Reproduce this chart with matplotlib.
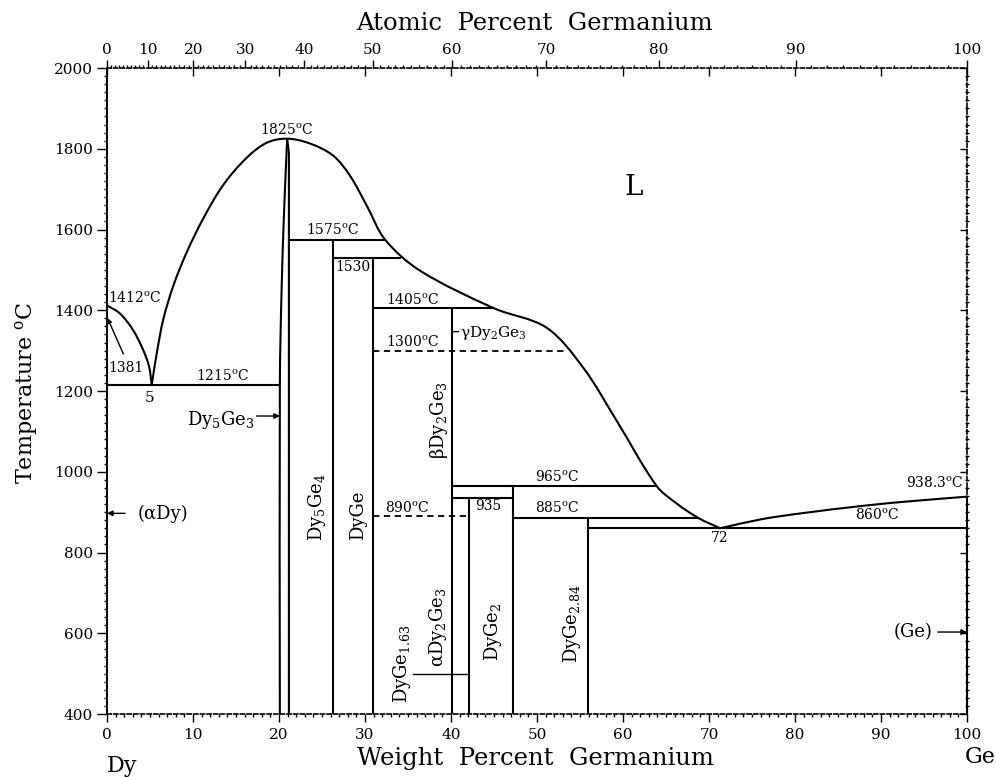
import numpy as np
import matplotlib
matplotlib.use("Agg")
import matplotlib.pyplot as plt
from matplotlib.ticker import MultipleLocator
from matplotlib.path import Path
from matplotlib.patches import PathPatch

plt.rcParams['font.family'] = ['DejaVu Serif']
plt.rcParams['mathtext.fontset'] = 'dejavuserif'

# ---------------- data ----------------
M_DY, M_GE = 162.50, 72.63

# liquidus curves (wt% Ge, deg C)
liq_dy_wt = [0.0, 1.5, 3.0, 4.2, 4.9, 5.2]
liq_dy_T = [1412, 1392, 1352, 1302, 1260, 1215]
liq_dome_wt = [5.2, 5.79, 6.55, 7.72, 9.28, 11.21, 13.54, 16.26, 18.59, 20.95,
               23.6, 26.3, 28.26, 30.23, 32.33, 36.4, 45.0, 51.1, 55.4, 59.3,
               63.9, 66.2, 68.8, 71.3]
liq_dome_T = [1215, 1294, 1378, 1461, 1544, 1628, 1711, 1778, 1815, 1825,
              1813, 1783, 1733, 1658, 1575, 1498, 1405, 1357, 1257, 1125,
              965, 922, 885, 860]
liq_ge_wt = [71.3, 76.0, 80.7, 88.5, 94.0, 100.0]
liq_ge_T = [860, 882, 897, 917, 928, 938.3]

# Dy5Ge3 homogeneity range boundaries
dy5ge3_left_wt = [20.95, 20.6, 20.3, 20.1, 20.1]
dy5ge3_left_T = [1825, 1650, 1450, 1215, 400]
dy5ge3_right_wt = [20.95, 21.15, 21.15]
dy5ge3_right_T = [1825, 1790, 400]

# line compounds
compound_names = ["Dy$_5$Ge$_4$", "DyGe", "Dy$_2$Ge$_3$", "DyGe$_{1.63}$",
                  "DyGe$_2$", "DyGe$_{2.84}$"]
compound_wt = [26.3, 30.9, 40.1, 42.1, 47.2, 55.9]
compound_top_T = [1575, 1530, 1405, 935, 965, 885]

# invariant (horizontal) lines
inv_T = [1215, 1575, 1530, 1405, 1300, 965, 935, 890, 885, 860]
inv_x0 = [0.0, 21.15, 26.3, 30.9, 30.9, 40.1, 40.1, 30.9, 47.2, 55.9]
inv_x1 = [20.1, 32.33, 34.2, 45.0, 53.5, 63.9, 47.2, 42.1, 68.8, 100.0]
inv_dashed = [False, False, False, False, True, False, False, True, False, False]

# point temperatures / compositions labelled on the chart
T_max_dy5ge3 = 1825
T_mp_dy, T_tr_dy, T_mp_ge = 1412, 1381, 938.3
eut1_wt, eut2_wt = 5, 72

wt_ticks = list(range(0, 101, 10))
at_ticks = list(range(0, 101, 10))
T_ticks = list(range(400, 2001, 200))


def at_to_wt(a):
    a = np.asarray(a, dtype=float)
    g = a * M_GE
    d = (100.0 - a) * M_DY
    with np.errstate(divide='ignore', invalid='ignore'):
        return np.where(g + d > 0, 100.0 * g / (g + d), 0.0)


def wt_to_at(w):
    w = np.asarray(w, dtype=float)
    g = w / M_GE
    d = (100.0 - w) / M_DY
    with np.errstate(divide='ignore', invalid='ignore'):
        return np.where(g + d > 0, 100.0 * g / (g + d), 0.0)


def smooth_path(xs, ys, sx=8.6, sy=0.404):
    """Bezier path through the given points (chord-length Hermite tangents)."""
    P = np.column_stack([np.asarray(xs, float) * sx, np.asarray(ys, float) * sy])
    n = len(P)
    d = np.linalg.norm(np.diff(P, axis=0), axis=1)
    M = np.zeros_like(P)
    M[0] = (P[1] - P[0]) / d[0]
    M[-1] = (P[-1] - P[-2]) / d[-1]
    for i in range(1, n - 1):
        M[i] = (P[i + 1] - P[i - 1]) / (d[i - 1] + d[i])
    verts = [P[0]]
    codes = [Path.MOVETO]
    for i in range(n - 1):
        c1 = P[i] + M[i] * d[i] / 3.0
        c2 = P[i + 1] - M[i + 1] * d[i] / 3.0
        verts += [c1, c2, P[i + 1]]
        codes += [Path.CURVE4] * 3
    V = np.array(verts)
    V[:, 0] /= sx
    V[:, 1] /= sy
    return Path(V, codes)


# ---------------- figure ----------------
fig = plt.figure(figsize=(9.96, 7.77), dpi=100)
ax = fig.add_axes([107 / 996, 1 - 714 / 777, 860 / 996, 646 / 777])
ax.set_xlim(0, 100)
ax.set_ylim(400, 2000)

LW = 1.5
kw = dict(color='black', lw=LW, solid_capstyle='butt')

for xs, ys in [(liq_dy_wt, liq_dy_T), (liq_dome_wt, liq_dome_T),
               (liq_ge_wt, liq_ge_T), (dy5ge3_left_wt, dy5ge3_left_T)]:
    ax.add_patch(PathPatch(smooth_path(xs, ys), fill=False, edgecolor='black', lw=LW))
ax.plot(dy5ge3_right_wt, dy5ge3_right_T, **kw)

for w, t in zip(compound_wt, compound_top_T):
    ax.plot([w, w], [400, t], **kw)

for t, x0, x1, dsh in zip(inv_T, inv_x0, inv_x1, inv_dashed):
    if dsh:
        ax.plot([x0, x1], [t, t], color='black', lw=1.3, ls=(0, (3.5, 2.5)))
    else:
        ax.plot([x0, x1], [t, t], **kw)

# Ge side solid boundary
ax.plot([100, 100], [400, T_mp_ge], color='black', lw=LW, clip_on=False)

# ---------------- axes styling ----------------
ax.xaxis.set_major_locator(plt.FixedLocator(wt_ticks))
ax.xaxis.set_minor_locator(MultipleLocator(1))
ax.yaxis.set_major_locator(plt.FixedLocator(T_ticks))
ax.yaxis.set_minor_locator(MultipleLocator(20))
ax.tick_params(axis='both', which='major', direction='out', length=7, width=1.0,
               labelsize=11, pad=3)
ax.tick_params(axis='both', which='minor', direction='out', length=2.5, width=1.0)
ax.tick_params(axis='x', which='major', length=6, pad=4)

ax.spines['left'].set_linewidth(1.4)
for s in ['bottom', 'top', 'right']:
    ax.spines[s].set_linewidth(1.2)
    ax.spines[s].set_linestyle((0, (2.5, 1.5)))

# top: atomic percent axis
sec = ax.secondary_xaxis('top', functions=(wt_to_at, at_to_wt))
sec.set_xticks(at_ticks)
sec.xaxis.set_minor_locator(MultipleLocator(1))
sec.tick_params(which='major', direction='out', length=6, width=1.0, labelsize=11, pad=2)
sec.tick_params(which='minor', direction='out', length=2, width=1.0)
sec.spines['top'].set_visible(False)

# top inward weight ticks
sec2 = ax.secondary_xaxis('top', functions=(lambda x: x, lambda x: x))
sec2.set_xticks(wt_ticks)
sec2.tick_params(which='major', direction='in', length=6, width=1.0, labeltop=False)
sec2.spines['top'].set_visible(False)

# right inward temperature ticks
sec3 = ax.secondary_yaxis('right', functions=(lambda x: x, lambda x: x))
sec3.set_yticks(T_ticks)
sec3.yaxis.set_minor_locator(MultipleLocator(20))
sec3.tick_params(which='major', direction='in', length=5, width=1.0, labelright=False)
sec3.tick_params(which='minor', direction='inout', length=3, width=1.0)
sec3.spines['right'].set_visible(False)

# ---------------- labels ----------------
deg = r"$^{\rm o}$C"
fs = 10


def lab(x, y, s, ha='center', va='center', size=fs, rot=0):
    ax.text(x, y, s, ha=ha, va=va, fontsize=size, rotation=rot)


lab(20.95, 1846, f"{T_max_dy5ge3}{deg}")
lab(26.2, 1599, f"{inv_T[1]}{deg}")
lab(26.5, 1507, f"{inv_T[2]}", ha='left')
lab(35.6, 1425, f"{inv_T[3]}{deg}")
lab(35.6, 1321, f"{inv_T[4]}{deg}")
lab(0.1, 1430, f"{T_mp_dy}{deg}", ha='left')
lab(0.1, 1257, f"{T_tr_dy}", ha='left')
lab(13.5, 1235, f"{inv_T[0]}{deg}")
lab(5.0, 1183, f"{eut1_wt}", size=11)
lab(34.9, 910, f"{inv_T[7]}{deg}")
lab(44.3, 915, f"{inv_T[6]}")
lab(52.4, 987, f"{inv_T[5]}{deg}")
lab(52.4, 910, f"{inv_T[8]}{deg}")
lab(71.3, 836, f"{eut2_wt}")
lab(89.6, 893, f"{inv_T[9]}{deg}")
lab(96.2, 972, f"{T_mp_ge}{deg}")

# 1381 leader
ax.annotate("", xy=(0.05, T_tr_dy), xytext=(1.9, 1292),
            arrowprops=dict(arrowstyle='-|>', lw=1.0, color='black', mutation_scale=7,
                            shrinkA=0, shrinkB=0))

# phase labels
big = 13
lab(61.2, 1705, "L", size=20)
lab(17.2, 1128, "Dy$_5$Ge$_3$", ha='right', size=big)
ax.annotate("", xy=(20.1, 1138), xytext=(17.4, 1138),
            arrowprops=dict(arrowstyle='-|>', lw=1.0, color='black', mutation_scale=8,
                            shrinkA=0, shrinkB=0))
lab(3.6, 895, "(αDy)", ha='left', size=big)
ax.annotate("", xy=(0.0, 897), xytext=(2.1, 897),
            arrowprops=dict(arrowstyle='-|>', lw=1.0, color='black', mutation_scale=8,
                            shrinkA=0, shrinkB=0))
lab(93.7, 603, "(Ge)", size=big)
ax.annotate("", xy=(100.0, 603), xytext=(96.6, 603),
            arrowprops=dict(arrowstyle='-|>', lw=1.0, color='black', mutation_scale=8,
                            shrinkA=0, shrinkB=0))
lab(41.0, 1344, "γDy$_2$Ge$_3$", ha='left', size=11)
ax.annotate("", xy=(40.1, 1347), xytext=(40.9, 1347),
            arrowprops=dict(arrowstyle='-', lw=1.0, color='black', shrinkA=0, shrinkB=0))

lab(24.4, 913, compound_names[0], rot=90, size=big)
lab(29.2, 893, compound_names[1], rot=90, size=big)
lab(38.6, 1128, "β" + compound_names[2], rot=90, size=big)
lab(38.5, 615, "α" + compound_names[2], rot=90, size=big)
lab(34.3, 526, compound_names[3], rot=90, size=big)
lab(44.9, 603, compound_names[4], rot=90, size=big)
lab(54.1, 625, compound_names[5], rot=90, size=big)
ax.plot([35.6, 42.1], [500, 500], color='black', lw=1.0)

# axis titles
fig.text(534 / 996, 1 - 24 / 777, "Atomic  Percent  Germanium", ha='center', va='center',
         fontsize=17.5)
fig.text(535 / 996, 1 - 758 / 777, "Weight  Percent  Germanium", ha='center', va='center',
         fontsize=17.5)
fig.text(122 / 996, 1 - 766 / 777, "Dy", ha='center', va='center', fontsize=16)
fig.text(980 / 996, 1 - 757 / 777, "Ge", ha='center', va='center', fontsize=16)
fig.text(27 / 996, 1 - 393 / 777, r"Temperature $^{\rm o}$C", ha='center', va='center',
         fontsize=16, rotation=90)

fig.savefig("out.png", dpi=100)
